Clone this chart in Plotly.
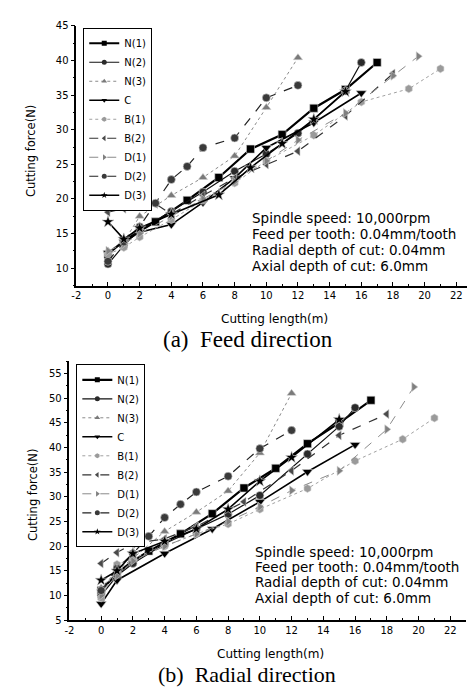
import plotly.graph_objects as go

# ---------------- data ----------------
series_names = ["N(1)", "N(2)", "N(3)", "C", "B(1)", "B(2)", "D(1)", "D(2)", "D(3)"]

# (a) Feed direction
feed_n1_x = [0, 1, 3, 5, 7, 9, 11, 13, 15, 17]
feed_n1_y = [12.0, 14.0, 16.7, 19.8, 23.1, 27.2, 29.3, 33.1, 35.8, 39.7]
feed_n2_x = [0, 1, 2, 4, 6, 8, 10, 12, 15, 16]
feed_n2_y = [10.6, 13.3, 15.5, 18.2, 21.0, 24.0, 26.5, 29.5, 35.6, 39.7]
feed_n3_x = [0, 1, 2, 4, 6, 8, 10, 12]
feed_n3_y = [12.5, 13.8, 17.5, 20.5, 23.1, 26.2, 33.2, 40.4]
feed_c_x = [0, 1, 2, 4, 6, 8, 10, 13, 16]
feed_c_y = [12.2, 13.8, 15.2, 16.3, 19.5, 23.0, 27.4, 31.0, 35.3]
feed_b1_x = [0, 1, 2, 4, 6, 8, 10, 13, 16, 19, 21]
feed_b1_y = [12.0, 13.0, 14.5, 17.0, 19.8, 22.3, 25.5, 29.2, 34.0, 35.9, 38.8]
feed_b2_x = [0, 1, 2, 3, 4, 6, 8, 10, 12, 15, 18]
feed_b2_y = [18.1, 18.6, 20.0, 19.3, 17.8, 20.5, 23.0, 25.0, 26.9, 32.0, 38.1]
feed_d1_x = [0, 1, 2, 4, 6, 8, 10, 12, 15, 18, 19.6]
feed_d1_y = [12.5, 13.5, 15.0, 17.5, 20.0, 22.5, 25.5, 28.5, 32.4, 37.8, 40.6]
feed_d2_x = [0, 1, 2, 3, 4, 5, 6, 8, 10, 12]
feed_d2_y = [11.0, 13.8, 16.0, 19.4, 22.8, 24.7, 27.4, 28.8, 34.6, 36.4]
feed_d3_x = [0, 1, 2, 4, 7, 9, 11, 13, 15]
feed_d3_y = [16.7, 14.2, 15.8, 17.8, 20.6, 24.5, 28.0, 31.5, 35.5]

# (b) Radial direction
rad_n1_x = [0, 1, 2, 3, 5, 7, 9, 11, 13, 15, 17]
rad_n1_y = [11.0, 14.5, 17.0, 19.0, 22.5, 26.6, 31.8, 35.8, 40.8, 45.0, 49.6]
rad_n2_x = [0, 1, 2, 4, 6, 8, 10, 13, 15, 16]
rad_n2_y = [10.0, 14.0, 16.5, 20.5, 23.5, 26.5, 30.3, 38.7, 44.3, 48.1]
rad_n3_x = [0, 1, 2, 4, 6, 8, 10, 12]
rad_n3_y = [11.5, 15.0, 17.5, 23.0, 26.9, 31.2, 38.9, 51.0]
rad_c_x = [0, 1, 4, 7, 10, 13, 16]
rad_c_y = [8.3, 13.1, 18.5, 23.5, 29.0, 35.1, 40.6]
rad_b1_x = [0, 1, 2, 4, 6, 8, 10, 13, 16, 19, 21]
rad_b1_y = [9.5, 16.3, 17.5, 20.0, 22.5, 24.5, 27.5, 31.7, 37.3, 41.7, 46.0]
rad_b2_x = [0, 1, 2, 4, 6, 9, 12, 15, 18]
rad_b2_y = [16.5, 18.7, 20.5, 21.5, 24.0, 29.0, 35.3, 42.5, 46.8]
rad_d1_x = [0, 1, 2, 4, 6, 8, 10, 12, 15, 18, 19.7]
rad_d1_y = [10.0, 14.0, 17.0, 20.0, 22.5, 25.0, 28.0, 31.3, 35.3, 43.7, 52.3]
rad_d2_x = [0, 1, 2, 3, 4, 5, 6, 8, 10, 12]
rad_d2_y = [11.0, 15.5, 18.5, 22.0, 25.8, 28.5, 31.0, 34.2, 39.8, 43.5]
rad_d3_x = [0, 1, 2, 4, 6, 8, 10, 12, 15]
rad_d3_y = [13.1, 15.0, 18.5, 21.0, 23.5, 27.5, 33.2, 38.0, 45.7]

x_tick_vals = [-2, 0, 2, 4, 6, 8, 10, 12, 14, 16, 18, 20, 22]
x_tick_text = ["-2", "0", "2", "4", "6", "8", "10", "12", "14", "16", "18", "20", "22"]
feed_y_ticks = [10, 15, 20, 25, 30, 35, 40, 45]
rad_y_ticks = [5, 10, 15, 20, 25, 30, 35, 40, 45, 50, 55]

conditions = ["Spindle speed: 10,000rpm", "Feed per tooth: 0.04mm/tooth",
              "Radial depth of cut: 0.04mm", "Axial depth of cut: 6.0mm"]

feed_data = [(feed_n1_x, feed_n1_y), (feed_n2_x, feed_n2_y), (feed_n3_x, feed_n3_y),
             (feed_c_x, feed_c_y), (feed_b1_x, feed_b1_y), (feed_b2_x, feed_b2_y),
             (feed_d1_x, feed_d1_y), (feed_d2_x, feed_d2_y), (feed_d3_x, feed_d3_y)]
rad_data = [(rad_n1_x, rad_n1_y), (rad_n2_x, rad_n2_y), (rad_n3_x, rad_n3_y),
            (rad_c_x, rad_c_y), (rad_b1_x, rad_b1_y), (rad_b2_x, rad_b2_y),
            (rad_d1_x, rad_d1_y), (rad_d2_x, rad_d2_y), (rad_d3_x, rad_d3_y)]

# ---------------- styles ----------------
styles = {
    "N(1)": dict(lc="#000000", lw=2.2, dash="solid", sym="square", ms=8, mc="#000000"),
    "N(2)": dict(lc="#111111", lw=1.2, dash="solid", sym="circle", ms=8, mc="#2a2a2a"),
    "N(3)": dict(lc="#8a8a8a", lw=1.0, dash="dot", sym="triangle-up", ms=8, mc="#7a7a7a"),
    "C":    dict(lc="#000000", lw=1.6, dash="solid", sym="triangle-down", ms=9, mc="#000000"),
    "B(1)": dict(lc="#a0a0a0", lw=1.0, dash="dot", sym="hexagon", ms=8, mc="#9a9a9a"),
    "B(2)": dict(lc="#333333", lw=1.2, dash="dash", sym="triangle-left", ms=8, mc="#4a4a4a"),
    "D(1)": dict(lc="#8a8a8a", lw=1.0, dash="dash", sym="triangle-right", ms=8, mc="#808080"),
    "D(2)": dict(lc="#222222", lw=1.2, dash="dash", sym="circle", ms=8, mc="#3a3a3a"),
    "D(3)": dict(lc="#000000", lw=1.6, dash="solid", sym="star", ms=9, mc="#000000"),
}
legend_marker_size = 5

fig = go.Figure()

def add_series(data, xa, ya, leg):
    for name, (xs, ys) in zip(series_names, data):
        s = styles[name]
        fig.add_trace(go.Scatter(
            x=xs, y=ys, name=name, mode="lines+markers",
            xaxis=xa, yaxis=ya, showlegend=False,
            line=dict(color=s["lc"], width=s["lw"], dash=s["dash"]),
            marker=dict(symbol=s["sym"], size=s["ms"], color=s["mc"],
                        line=dict(color="#cccccc", width=0.6)),
        ))
    # legend-only entries (small symbols as in the reference key)
    for name in series_names:
        s = styles[name]
        fig.add_trace(go.Scatter(
            x=[None], y=[None], name=name, mode="lines+markers",
            xaxis=xa, yaxis=ya, legend=leg, showlegend=True,
            line=dict(color=s["lc"], width=s["lw"], dash=s["dash"]),
            marker=dict(symbol=s["sym"], size=legend_marker_size, color=s["mc"]),
        ))

add_series(feed_data, "x", "y", "legend")
add_series(rad_data, "x2", "y2", "legend2")

W, H = 475, 687
tick_font = dict(family="DejaVu Sans", size=10, color="black")

def xaxis(domain, anchor):
    return dict(domain=domain, range=[-2, 23], tickvals=x_tick_vals, ticktext=x_tick_text,
                ticks="inside",
                ticklen=4, tickwidth=1, tickcolor="black", showline=True,
                linecolor="black", linewidth=1.5, showgrid=False, zeroline=False,
                anchor=anchor, tickfont=tick_font,
                minor=dict(dtick=1, tick0=0, ticks="inside", ticklen=2, tickcolor="black"))

def yaxis(domain, rng, tv, anchor):
    return dict(domain=domain, range=rng, tickvals=tv, ticks="outside",
                ticklen=4, tickwidth=1, tickcolor="black", showline=True,
                linecolor="black", linewidth=1.5, showgrid=False, zeroline=False,
                anchor=anchor, tickfont=tick_font,
                minor=dict(dtick=2.5, tick0=0, ticks="outside", ticklen=2, tickcolor="black"))

def px(x):
    return x / W

def py(y):
    return 1 - y / H

legend_common = dict(font=dict(family="DejaVu Sans", size=10, color="black"),
                     bgcolor="white", bordercolor="black", borderwidth=1,
                     xanchor="left", yanchor="top", tracegroupgap=0, itemwidth=30)

fig.update_layout(
    width=W, height=H, margin=dict(l=0, r=0, t=0, b=0),
    paper_bgcolor="white", plot_bgcolor="white",
    xaxis=xaxis([px(64), px(464)], "y"),
    yaxis=yaxis([py(277), py(13)], [7.5, 45], feed_y_ticks, "x"),
    xaxis2=xaxis([px(57), px(458)], "y2"),
    yaxis2=yaxis([py(617), py(354)], [5, 57.5], rad_y_ticks, "x2"),
    legend=dict(x=px(71), y=py(15), **legend_common),
    legend2=dict(x=px(64), y=py(357), **legend_common),
    showlegend=True,
)

ann = []
cond_font = dict(family="DejaVu Sans", size=13.5, color="black")
for i, t in enumerate(conditions):
    ann.append(dict(text=t, x=px(240), y=py(208 + i * 16.4), xref="paper", yref="paper",
                    xanchor="left", yanchor="middle", showarrow=False, font=cond_font))
    ann.append(dict(text=t, x=px(243), y=py(547.3 + i * 15.7), xref="paper", yref="paper",
                    xanchor="left", yanchor="middle", showarrow=False, font=cond_font))

title_font = dict(family="DejaVu Sans", size=12, color="black")
ann += [
    dict(text="Cutting length(m)", x=px(264), y=py(311), xref="paper", yref="paper",
         xanchor="center", yanchor="middle", showarrow=False, font=title_font),
    dict(text="Cutting length(m)", x=px(260), y=py(651), xref="paper", yref="paper",
         xanchor="center", yanchor="middle", showarrow=False, font=title_font),
    dict(text="Cutting force(N)", x=px(17.5), y=py(140), xref="paper", yref="paper",
         xanchor="center", yanchor="middle", showarrow=False, textangle=-90,
         font=dict(family="DejaVu Sans", size=11.5, color="black")),
    dict(text="Cutting force(N)", x=px(20), y=py(490), xref="paper", yref="paper",
         xanchor="center", yanchor="middle", showarrow=False, textangle=-90,
         font=dict(family="DejaVu Sans", size=11.5, color="black")),
    dict(text="(a)\u00a0 Feed direction", x=px(237), y=py(332), xref="paper", yref="paper",
         xanchor="center", yanchor="middle", showarrow=False,
         font=dict(family="Liberation Serif", size=23, color="black")),
    dict(text="(b)\u00a0 Radial direction", x=px(236), y=py(672), xref="paper", yref="paper",
         xanchor="center", yanchor="middle", showarrow=False,
         font=dict(family="Liberation Serif", size=22, color="black")),
]
fig.update_layout(annotations=ann)

fig.write_html("out.html")
